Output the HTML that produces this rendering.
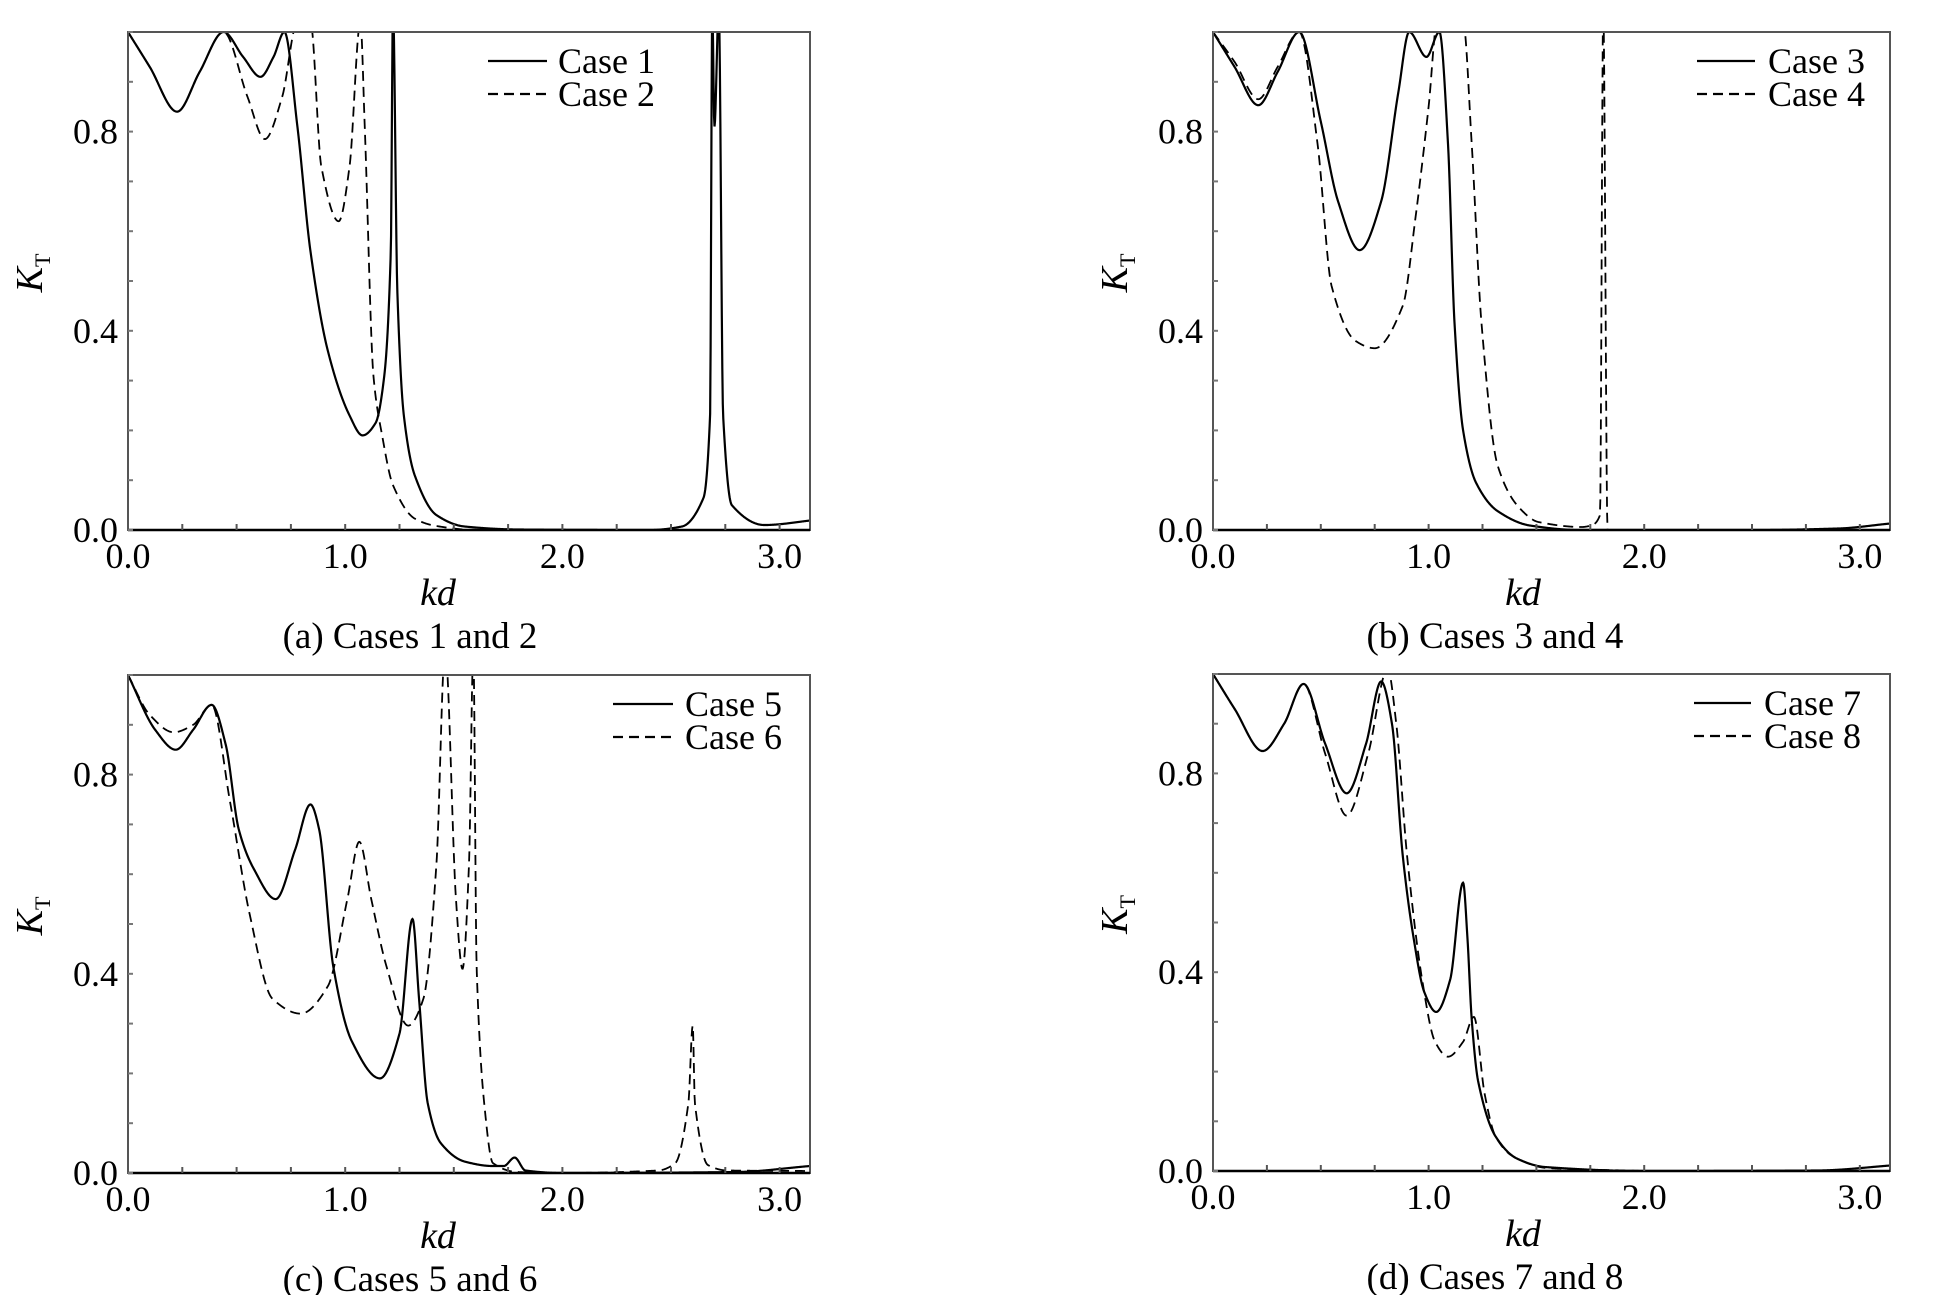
<!DOCTYPE html>
<html><head><meta charset="utf-8"><style>
body{margin:0;background:#fff}
svg text{font-family:"Liberation Serif",serif;fill:#000}
</style></head><body>
<svg id="fig" width="1933" height="1295" viewBox="0 0 1933 1295" xmlns="http://www.w3.org/2000/svg"></svg>
<script>
const xTickLabels=["0.0","1.0","2.0","3.0"];
const yTickLabels=["0.0","0.4","0.8"];
const captions=["(a) Cases 1 and 2","(b) Cases 3 and 4","(c) Cases 5 and 6","(d) Cases 7 and 8"];
const legendNames=[["Case 1","Case 2"],["Case 3","Case 4"],["Case 5","Case 6"],["Case 7","Case 8"]];
const case1X=[0,0.1,0.226,0.33,0.44,0.53,0.61,0.67,0.72,0.78,0.84,0.92,1.02,1.08,1.14,1.18,1.21,1.22,1.24,1.27,1.32,1.42,1.55,1.8,2.4,2.55,2.65,2.68,2.69,2.70,2.72,2.74,2.78,2.93,3.16];
const case1Y=[1.0,0.93,0.84,0.92,1.0,0.95,0.91,0.95,1.0,0.81,0.56,0.36,0.23,0.19,0.215,0.31,0.56,1.05,0.48,0.23,0.11,0.03,0.007,0.001,0.0,0.007,0.065,0.23,1.05,0.81,1.05,0.23,0.05,0.01,0.02];
const case2X=[0,0.1,0.226,0.33,0.44,0.55,0.63,0.71,0.78,0.8,0.84,0.89,0.97,1.02,1.07,1.09,1.13,1.17,1.22,1.32,1.42,1.6,2.0];
const case2Y=[1.0,0.93,0.84,0.92,1.0,0.87,0.785,0.87,1.02,1.02,1.02,0.73,0.62,0.73,1.02,0.81,0.31,0.19,0.09,0.023,0.008,0.0,0.0];
const case3X=[0,0.1,0.21,0.3,0.4,0.5,0.58,0.68,0.78,0.86,0.91,0.99,1.05,1.09,1.12,1.16,1.22,1.32,1.47,1.7,2.5,2.9,3.14];
const case3Y=[1.0,0.93,0.853,0.92,1.0,0.82,0.66,0.562,0.66,0.88,1.0,0.95,1.0,0.775,0.417,0.2,0.095,0.038,0.009,0.0,0.0,0.003,0.013];
const case4X=[0,0.1,0.21,0.3,0.4,0.485,0.55,0.66,0.75,0.88,0.94,1.0,1.04,1.1,1.16,1.2,1.245,1.32,1.42,1.51,1.71,1.76,1.795,1.81,1.83,2.0,3.14];
const case4Y=[1.0,0.94,0.865,0.93,1.0,0.775,0.49,0.38,0.365,0.45,0.63,0.85,1.02,1.02,1.02,0.775,0.417,0.13,0.045,0.016,0.006,0.01,0.03,1.05,0.0,0.0,0.0];
const case5X=[0,0.125,0.22,0.3,0.385,0.45,0.51,0.58,0.68,0.77,0.84,0.88,0.945,1.03,1.16,1.25,1.31,1.34,1.38,1.44,1.55,1.68,1.73,1.78,1.83,2.0,2.8,3.14];
const case5Y=[1.0,0.89,0.85,0.89,0.94,0.86,0.69,0.61,0.55,0.65,0.74,0.69,0.415,0.265,0.19,0.28,0.51,0.35,0.14,0.06,0.023,0.014,0.014,0.031,0.005,0.0,0.002,0.014];
const case6X=[0,0.1,0.21,0.3,0.385,0.47,0.56,0.665,0.795,0.92,1.01,1.065,1.12,1.19,1.29,1.36,1.42,1.46,1.51,1.54,1.57,1.59,1.605,1.64,1.68,1.79,2.0,2.44,2.52,2.58,2.6,2.61,2.67,2.76,3.14];
const case6Y=[1.0,0.92,0.885,0.9,0.94,0.745,0.52,0.35,0.32,0.375,0.55,0.665,0.55,0.415,0.296,0.35,0.62,1.05,0.55,0.41,0.62,1.05,0.415,0.14,0.02,0.002,0.0,0.005,0.02,0.14,0.296,0.14,0.016,0.005,0.004];
const case7X=[0,0.1,0.23,0.33,0.42,0.52,0.62,0.71,0.78,0.83,0.88,0.93,0.98,1.035,1.1,1.16,1.18,1.2,1.23,1.31,1.41,1.54,2.0,2.8,3.17];
const case7Y=[1.0,0.93,0.845,0.9,0.98,0.86,0.76,0.86,0.985,0.9,0.635,0.47,0.36,0.32,0.385,0.58,0.47,0.305,0.18,0.07,0.025,0.008,0.0,0.001,0.012];
const case8X=[0,0.1,0.23,0.33,0.42,0.52,0.62,0.72,0.81,0.85,0.9,0.97,1.03,1.09,1.16,1.21,1.26,1.31,1.39,1.55,2.0];
const case8Y=[1.0,0.93,0.845,0.9,0.98,0.84,0.715,0.84,1.01,0.9,0.635,0.385,0.26,0.23,0.26,0.31,0.155,0.07,0.03,0.006,0.0];

const panels=[
 {l:128,r:810,t:32,b:530,leg:{x1:488,x2:547,tx:558,y:61},ytx:29,series:[[case1X,case1Y],[case2X,case2Y]]},
 {l:1213,r:1890,t:32,b:530,leg:{x1:1697,x2:1755,tx:1768,y:61},ytx:1114,series:[[case3X,case3Y],[case4X,case4Y]]},
 {l:128,r:810,t:675,b:1173,leg:{x1:613,x2:673,tx:685,y:704},ytx:29,series:[[case5X,case5Y],[case6X,case6Y]]},
 {l:1213,r:1890,t:674,b:1171,leg:{x1:1694,x2:1751,tx:1764,y:703},ytx:1114,series:[[case7X,case7Y],[case8X,case8Y]]}
];
const XMAX=3.14;
const NS="http://www.w3.org/2000/svg";
const svg=document.getElementById('fig');
function mk(tag,attrs,parent){const e=document.createElementNS(NS,tag);for(const k in attrs)e.setAttribute(k,attrs[k]);(parent||svg).appendChild(e);return e;}
function monotone(xs,ys){
 const n=xs.length,d=[],m=new Array(n);
 for(let i=0;i<n-1;i++)d.push((ys[i+1]-ys[i])/(xs[i+1]-xs[i]));
 m[0]=d[0];m[n-1]=d[n-2];
 for(let i=1;i<n-1;i++){ if(d[i-1]*d[i]<=0)m[i]=0; else m[i]=2/(1/d[i-1]+1/d[i]); }
 return function(x){
  let i=0;while(i<n-2&&x>xs[i+1])i++;
  const h=xs[i+1]-xs[i],t=(x-xs[i])/h,t2=t*t,t3=t2*t;
  return (2*t3-3*t2+1)*ys[i]+(t3-2*t2+t)*h*m[i]+(-2*t3+3*t2)*ys[i+1]+(t3-t2)*h*m[i+1];
 };
}
panels.forEach((p,pi)=>{
 const g=mk('g',{});
 
 
 const sx=v=>p.l+(v/XMAX)*(p.r-p.l);
 const sy=v=>p.b-v*(p.b-p.t);
 const cp=mk('clipPath',{id:'cp'+pi},g);
 mk('rect',{x:p.l,y:p.t,width:p.r-p.l,height:p.b-p.t},cp);
 // series
 p.series.forEach((s,si)=>{
  const f=monotone(s[0],s[1]);
  const x0=s[0][0],x1=Math.min(s[0][s[0].length-1],XMAX);
  let d='';const N=1400;
  for(let k=0;k<=N;k++){const x=x0+(x1-x0)*k/N;let y=f(x);if(y<0)y=0;d+=(k?'L':'M')+sx(x).toFixed(2)+' '+sy(y).toFixed(2);}
  const path=mk('path',{d:d,fill:'none',stroke:'#000','stroke-width':si?1.8:2.2,'clip-path':'url(#cp'+pi+')'},g);
  if(si)path.setAttribute('stroke-dasharray','10 6');
  
  
 });
 // frame
 const fr=mk('rect',{x:p.l,y:p.t,width:p.r-p.l,height:p.b-p.t,fill:'none',stroke:'#555','stroke-width':2},g);
 
 
 mk('line',{x1:p.l,y1:p.b,x2:p.r,y2:p.b,stroke:'#000','stroke-width':2.5},g);
 // ticks
 for(let v=0;v<=XMAX+1e-9;v+=0.25){mk('line',{x1:sx(v),y1:p.b,x2:sx(v),y2:p.b-6,stroke:'#555','stroke-width':2},g);}
 for(let k=0;k<=10;k++){const v=k/10;mk('line',{x1:p.l,y1:sy(v),x2:p.l+5,y2:sy(v),stroke:'#777','stroke-width':2},g);}
 xTickLabels.forEach(s=>{const t=mk('text',{x:sx(parseFloat(s)),y:p.b+38,'font-size':36,'text-anchor':'middle'},g);t.textContent=s;
  
  });
 yTickLabels.forEach(s=>{const t=mk('text',{x:p.l-10,y:sy(parseFloat(s))+12,'font-size':36,'text-anchor':'end'},g);t.textContent=s;
  
  });
 // axis titles
 const xt=mk('text',{x:p.l+310,y:p.b+75,'font-size':38,'font-style':'italic','text-anchor':'middle'},g);xt.textContent='kd';
 
 
 const cy=(p.t+p.b)/2-8;
 const yt=mk('text',{x:0,y:0,'font-size':38,'text-anchor':'middle',transform:'translate('+(p.ytx+13)+','+cy+') rotate(-90)'},g);
 yt.innerHTML='<tspan font-style="italic">K</tspan><tspan font-size="22" dy="8">T</tspan>';
 
 
 const cap=mk('text',{x:p.l+282,y:p.b+118,'font-size':37,'text-anchor':'middle'},g);cap.textContent=captions[pi];
 
 
 // legend
 [0,1].forEach(si=>{
  const y=p.leg.y+si*33;
  const ln=mk('line',{x1:p.leg.x1,y1:y,x2:p.leg.x2,y2:y,stroke:'#000','stroke-width':2.2},g);
  if(si)ln.setAttribute('stroke-dasharray','10 6');
  
  
  const t=mk('text',{x:p.leg.tx,y:y+12,'font-size':36},g);t.textContent=legendNames[pi][si];
  
  
 });
});
</script>
</body></html>
